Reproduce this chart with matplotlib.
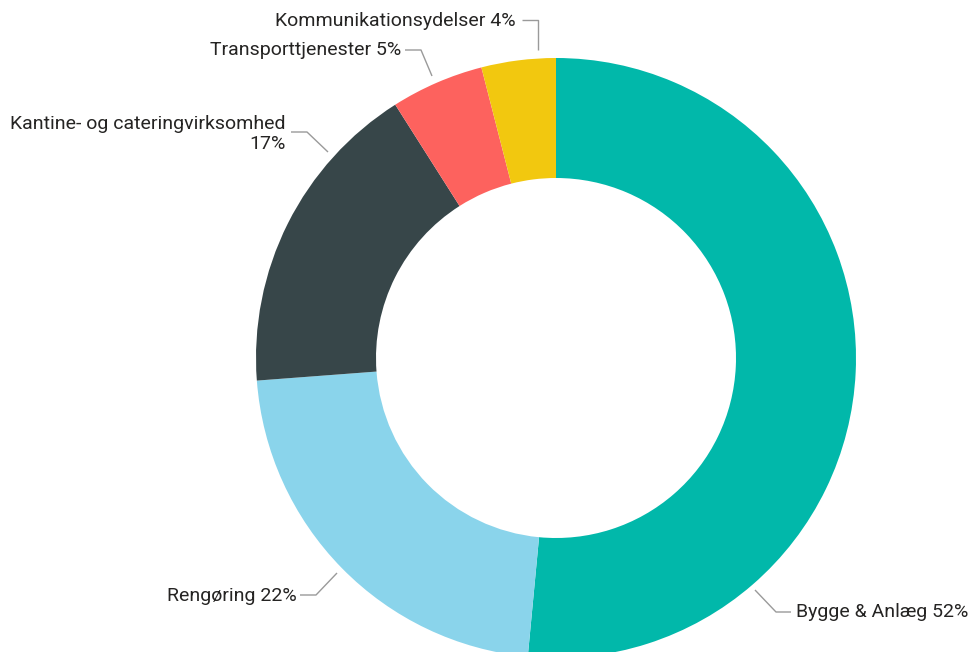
import matplotlib
matplotlib.use("Agg")
import matplotlib.pyplot as plt

categories = ["Bygge & Anlæg", "Rengøring", "Kantine- og cateringvirksomhed",
              "Transporttjenester", "Kommunikationsydelser"]
values = [51.5, 22.3, 17.2, 5.0, 4.0]
colors = ["#01B8AA", "#8AD4EB", "#374649", "#FD625E", "#F2C80F"]
total = sum(values)
pcts = [f"{round(v / total * 100):d}%" for v in values]
label_texts = [f"{c} {p}" for c, p in zip(categories, pcts)]
label_texts[2] = f"{categories[2]}\n{pcts[2]}"

W, H = 969, 652
fig = plt.figure(figsize=(W / 100, H / 100), dpi=100)
ax = fig.add_axes([0, 0, 1, 1])

cx, cy, R = 556, H - 358, 300
ax.pie(values, colors=colors, startangle=90, counterclock=False,
       radius=R, center=(cx, cy),
       wedgeprops=dict(width=120, linewidth=0, antialiased=True))
ax.set_xlim(0, W)
ax.set_ylim(0, H)
ax.set_aspect("equal")
ax.axis("off")

# leader lines (pixel layout, y from top)
leaders = [
    [(755, 590), (776, 612), (791, 612)],
    [(337, 573), (316, 595), (300, 595)],
    [(328, 152), (307, 132), (291, 132)],
    [(432, 76), (421, 50), (405, 50)],
    [(538, 50), (538, 20), (522, 20)],
]
text_pos = [(796, 612, "left"), (297, 596, "right"), (286, 134, "right"),
            (401, 50, "right"), (516, 21, "right")]

for pts, (tx, ty, ha), txt in zip(leaders, text_pos, label_texts):
    xs = [p[0] for p in pts]
    ys = [H - p[1] for p in pts]
    ax.plot(xs, ys, color="#9a9a9a", lw=1.0, solid_capstyle="butt")
    ax.text(tx, H - ty, txt, ha=ha, va="center", fontsize=14,
            family="Roboto", color="#252423", multialignment="right",
            linespacing=1.2)

fig.savefig("out.png", dpi=100, facecolor="white")
